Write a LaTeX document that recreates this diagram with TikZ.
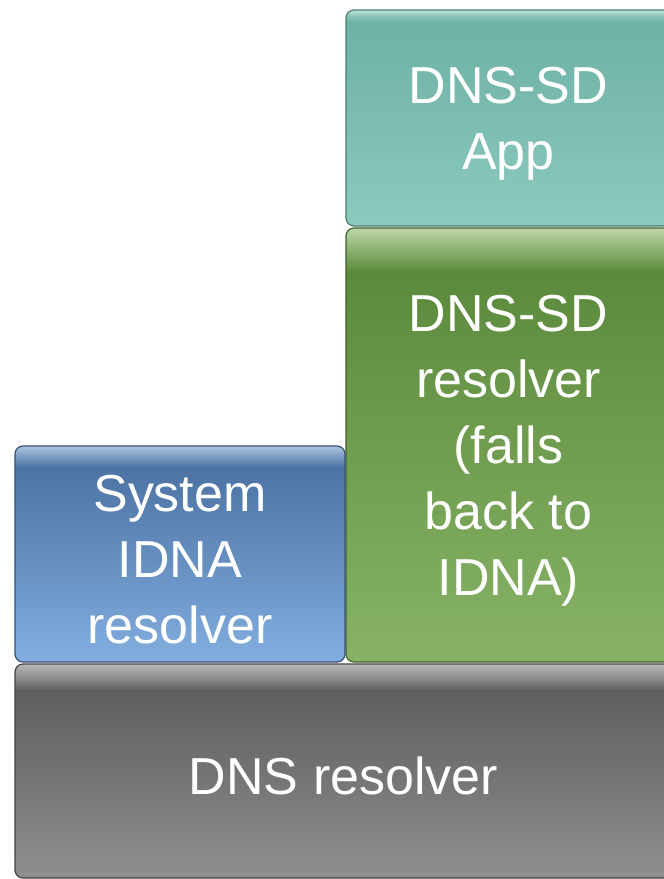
\documentclass[tikz,border=0pt]{standalone}
\usepackage{fontspec}
\setmainfont{Liberation Sans}
\definecolor{tealhl}{HTML}{C2E5DD}
\definecolor{tealtop}{HTML}{6FB1A5}
\definecolor{tealbot}{HTML}{8CCABE}
\definecolor{greenhl}{HTML}{BCD6A6}
\definecolor{greentop}{HTML}{5C8A3C}
\definecolor{greenbot}{HTML}{88B367}
\definecolor{bluehl}{HTML}{AAC4E2}
\definecolor{bluetop}{HTML}{4C73A4}
\definecolor{bluebot}{HTML}{83AEE0}
\definecolor{grayhl}{HTML}{B8B8B8}
\definecolor{graytop}{HTML}{5E5E5E}
\definecolor{graybot}{HTML}{8F8F8F}
\pgfdeclareverticalshading{tealsh}{100bp}{color(0bp)=(tealbot); color(25bp)=(tealbot); color(72bp)=(tealtop); color(73.5bp)=(tealtop!70!tealhl); color(75bp)=(tealhl); color(100bp)=(tealhl)}
\pgfdeclareverticalshading{greensh}{100bp}{color(0bp)=(greenbot); color(25bp)=(greenbot); color(70bp)=(greentop); color(72bp)=(greentop!60!greenhl); color(75bp)=(greenhl); color(100bp)=(greenhl)}
\pgfdeclareverticalshading{bluesh}{100bp}{color(0bp)=(bluebot); color(25bp)=(bluebot); color(70bp)=(bluetop); color(72bp)=(bluetop!60!bluehl); color(75bp)=(bluehl); color(100bp)=(bluehl)}
\pgfdeclareverticalshading{graysh}{100bp}{color(0bp)=(graybot); color(25bp)=(graybot); color(69bp)=(graytop); color(71bp)=(graytop!60!grayhl); color(75bp)=(grayhl); color(100bp)=(grayhl)}
\newcommand{\topstrut}{\rule{0pt}{48pt}}
\tikzset{
  layer/.style={rectangle, rounded corners=8pt, inner sep=0pt, shade, line width=1.2pt,
    text=white, align=center, font=\fontsize{52}{66}\selectfont},
}
\begin{document}
\begin{tikzpicture}[x=1pt,y=-1pt]
\useasboundingbox (0,0) rectangle (664,879);
\clip (0,0) rectangle (664,879);
\fill[white] (0,0) rectangle (664,879);
\node[layer, shading=tealsh, draw=tealtop!70!black, minimum width=325pt, minimum height=216pt] (app) at (508.5,118) {\topstrut DNS-SD\\App};
\node[layer, shading=greensh, draw=greentop!70!black, minimum width=325pt, minimum height=434pt] (sdres) at (508.5,445) {\topstrut DNS-SD\\resolver\\(falls\\back to\\IDNA)};
\node[layer, shading=bluesh, draw=bluetop!70!black, minimum width=330pt, minimum height=216pt] (idna) at (180,554) {\topstrut System\\IDNA\\resolver};
\node[layer, shading=graysh, draw=graytop!70!black, minimum width=657pt, minimum height=214pt] (dns) at (343.5,771) {\topstrut DNS resolver};
\end{tikzpicture}
\end{document}
